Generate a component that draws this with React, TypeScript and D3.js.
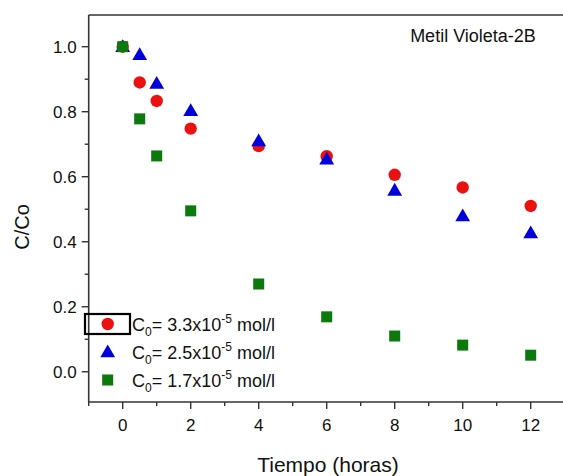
import React from "react";
import * as d3 from "d3";

const times = [0, 0.5, 1, 2, 4, 6, 8, 10, 12];
const seriesRed = [1.0, 0.89, 0.833, 0.748, 0.694, 0.663, 0.606, 0.567, 0.51];
const seriesBlue = [1.0, 0.975, 0.887, 0.803, 0.71, 0.654, 0.558, 0.479, 0.427];
const seriesGreen = [1.0, 0.778, 0.664, 0.495, 0.27, 0.169, 0.11, 0.082, 0.051];
const legendValues = ["3.3", "2.5", "1.7"];
const xMajorTicks = [0, 2, 4, 6, 8, 10, 12];
const xMinorTicks = [-1, 1, 3, 5, 7, 9, 11];
const yMajorTicks = [0, 0.2, 0.4, 0.6, 0.8, 1.0];
const yMinorTicks = [0.1, 0.3, 0.5, 0.7, 0.9];

const RED = "#ec1111";
const BLUE = "#0000dc";
const GREEN = "#0b790b";
const FONT = "'Liberation Sans', Arial, sans-serif";

export default function App() {
  const W = 563, H = 476;
  const left = 88.7, right = 564.7, top = 15, bottom = 402;
  const x = d3.scaleLinear().domain([-1, 13]).range([left, right]);
  const y = d3.scaleLinear().domain([-0.093, 1.0975]).range([bottom, top]);
  const axisColor = "#333";

  const tri = d3.symbol().type(d3.symbolTriangle).size(95)();
  const circle = (cx: number, cy: number, k: string) => (
    <circle key={k} cx={cx} cy={cy} r={6.2} fill={RED} />
  );
  const triangle = (cx: number, cy: number, k: string) => (
    <path key={k} d={tri!} transform={`translate(${cx},${cy + 1})`} fill={BLUE} />
  );
  const square = (cx: number, cy: number, k: string) => (
    <rect key={k} x={cx - 5.5} y={cy - 5.5} width={11} height={11} fill={GREEN} />
  );

  const legendRows = [
    { draw: circle, val: legendValues[0] },
    { draw: triangle, val: legendValues[1] },
    { draw: square, val: legendValues[2] },
  ];

  return (
    <svg
      width={W}
      height={H}
      style={{ position: "absolute", left: 0, top: 0, background: "#fff" }}
      fontFamily={FONT}
    >
      <rect x={0} y={0} width={W} height={H} fill="#fff" />
      {/* axes */}
      <line x1={left} x2={right} y1={top} y2={top} stroke={axisColor} strokeWidth={1.6} />
      <line x1={left} x2={right} y1={bottom} y2={bottom} stroke={axisColor} strokeWidth={1.6} />
      <line x1={left} x2={left} y1={top} y2={bottom} stroke={axisColor} strokeWidth={1.6} />
      <line x1={right} x2={right} y1={top} y2={bottom} stroke={axisColor} strokeWidth={1.6} />

      {yMajorTicks.map((t) => (
        <g key={"ym" + t}>
          <line x1={left - 7} x2={left} y1={y(t)} y2={y(t)} stroke={axisColor} strokeWidth={1.4} />
          <text x={left - 12} y={y(t)} dy="0.35em" textAnchor="end" fontSize={17} fill="#111">
            {t.toFixed(1)}
          </text>
        </g>
      ))}
      {yMinorTicks.map((t) => (
        <line key={"yn" + t} x1={left - 4} x2={left} y1={y(t)} y2={y(t)} stroke={axisColor} strokeWidth={1.4} />
      ))}
      {xMajorTicks.map((t) => (
        <g key={"xm" + t}>
          <line x1={x(t)} x2={x(t)} y1={bottom} y2={bottom + 7} stroke={axisColor} strokeWidth={1.4} />
          <text x={x(t)} y={430.5} textAnchor="middle" fontSize={17} fill="#111">
            {t}
          </text>
        </g>
      ))}
      {xMinorTicks.map((t) => (
        <line key={"xn" + t} x1={x(t)} x2={x(t)} y1={bottom} y2={bottom + 4} stroke={axisColor} strokeWidth={1.4} />
      ))}

      {/* axis titles */}
      <text x={328} y={472} textAnchor="middle" fontSize={21} fill="#111">
        Tiempo (horas)
      </text>
      <text
        transform={`translate(29,227) rotate(-90)`}
        textAnchor="middle"
        fontSize={20}
        fill="#111"
      >
        C/Co
      </text>

      {/* title */}
      <text x={473} y={41.5} textAnchor="middle" fontSize={18} fill="#111">
        Metil Violeta-2B
      </text>

      {/* data */}
      {times.map((t, i) => circle(x(t), y(seriesRed[i]), "r" + i))}
      {times.map((t, i) => triangle(x(t), y(seriesBlue[i]), "b" + i))}
      {times.map((t, i) => square(x(t), y(seriesGreen[i]), "g" + i))}

      {/* legend */}
      <rect x={85} y={314} width={45} height={20} fill="none" stroke="#000" strokeWidth={2.2} />
      {legendRows.map((row, i) => {
        const cy = 324 + i * 28;
        return (
          <g key={"lg" + i}>
            {row.draw(107.7, cy, "lm" + i)}
            <text x={132} y={cy + 6.5} fontSize={18} fill="#111">
              C
              <tspan fontSize={12} dy={5}>0</tspan>
              <tspan dy={-5}>= {row.val}x10</tspan>
              <tspan fontSize={12} dy={-8}>-5</tspan>
              <tspan dy={8}> mol/l</tspan>
            </text>
          </g>
        );
      })}
    </svg>
  );
}
